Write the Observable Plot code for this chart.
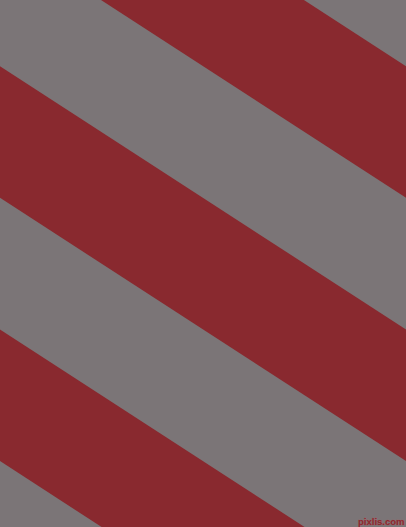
<!DOCTYPE html>
<html>
<head>
<meta charset="utf-8">
<script src="https://cdn.jsdelivr.net/npm/d3@7"></script>
<script src="https://cdn.jsdelivr.net/npm/@observablehq/plot@0.6"></script>
<style>
  html, body { margin: 0; padding: 0; overflow: hidden; background: #7b7577; }
  #chart svg { display: block; }
</style>
</head>
<body>
<div id="chart"></div>
<script>
// Stripe pattern data
const stripeNames = ["upper", "middle", "lower"];       // the three red stripes
const stripeTopAtLeft = [-197.1, 66.2, 329.5];           // y of each red stripe's top edge at x = 0
const stripeThickness = [131.6, 131.6, 131.6];           // vertical thickness of each red stripe
const stripeSlope = 0.6485;                              // drop in y per unit x (tan 33°)
const xExtent = [0, 406];
const yExtent = [0, 527];
const colors = { red: "#89292f", gray: "#7b7577" };
const watermark = ["pixlis.com"];

// Build a table for the area mark: each stripe sampled at the left and right edges
const table = [];
stripeNames.forEach((name, i) => {
  for (const x of xExtent) {
    table.push({
      stripe: name,
      x,
      y1: stripeTopAtLeft[i] + stripeSlope * x,
      y2: stripeTopAtLeft[i] + stripeThickness[i] + stripeSlope * x
    });
  }
});

const chart = Plot.plot({
  width: 406,
  height: 527,
  margin: 0,
  x: { domain: xExtent, range: [0, 406], axis: null },
  y: { domain: yExtent, range: [0, 527], axis: null },
  style: { background: colors.gray },
  marks: [
    Plot.areaY(table, { x: "x", y1: "y1", y2: "y2", z: "stripe", fill: colors.red, clip: true }),
    Plot.text(watermark, {
      frameAnchor: "bottom-right",
      dx: -2,
      dy: -3,
      text: d => d,
      fill: colors.red,
      stroke: "#b05a60",
      strokeWidth: 0.5,
      paintOrder: "stroke",
      fontSize: 9.5,
      fontWeight: "bold",
      fontFamily: "Liberation Sans"
    })
  ]
});
document.getElementById("chart").appendChild(chart);
</script>
</body>
</html>
